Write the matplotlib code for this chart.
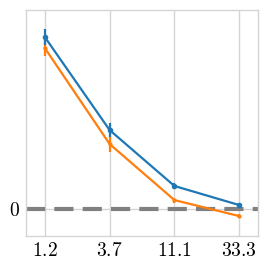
import numpy as np
import matplotlib
matplotlib.use("Agg")
import matplotlib.pyplot as plt

plt.rcParams["mathtext.fontset"] = "cm"
plt.rcParams["font.family"] = "serif"

x_labels = ["1.2", "3.7", "11.1", "33.3"]
blue_vals = [1.0, 0.459, 0.134, 0.023]
blue_err = [0.045, 0.04, 0.015, 0.01]
orange_vals = [0.936, 0.378, 0.052, -0.041]
orange_err = [0.045, 0.045, 0.015, 0.01]

x = np.arange(len(x_labels))

fig, ax = plt.subplots(figsize=(2.68, 2.71), dpi=100)
fig.subplots_adjust(left=0.097, right=0.963, top=0.963, bottom=0.129)

ax.grid(True, color="#d5d5d5", linewidth=1.0, zorder=0)
ax.set_axisbelow(True)
for s in ax.spines.values():
    s.set_color("#d5d5d5")
    s.set_linewidth(1.0)

ax.axhline(0, color="gray", linestyle=(0, (4.6, 2.2)), linewidth=3, zorder=1)

ax.errorbar(x, blue_vals, yerr=blue_err, color="#1f77b4", marker="o",
            markersize=3, linewidth=1.6, elinewidth=1.6, capsize=0, zorder=3)
ax.errorbar(x, orange_vals, yerr=orange_err, color="#ff7f0e", marker="o",
            markersize=2, linewidth=1.6, elinewidth=1.6, capsize=0, zorder=2)

ax.set_xticks(x)
ax.set_xticklabels(["$%s$" % t for t in x_labels], fontsize=14)
ax.set_yticks([0])
ax.set_yticklabels(["$0$"], fontsize=14)
ax.tick_params(length=0, pad=4)
ax.set_xlim(-0.29, 3.29)
ax.set_ylim(-0.157, 1.157)

fig.savefig("out.png", dpi=100)
